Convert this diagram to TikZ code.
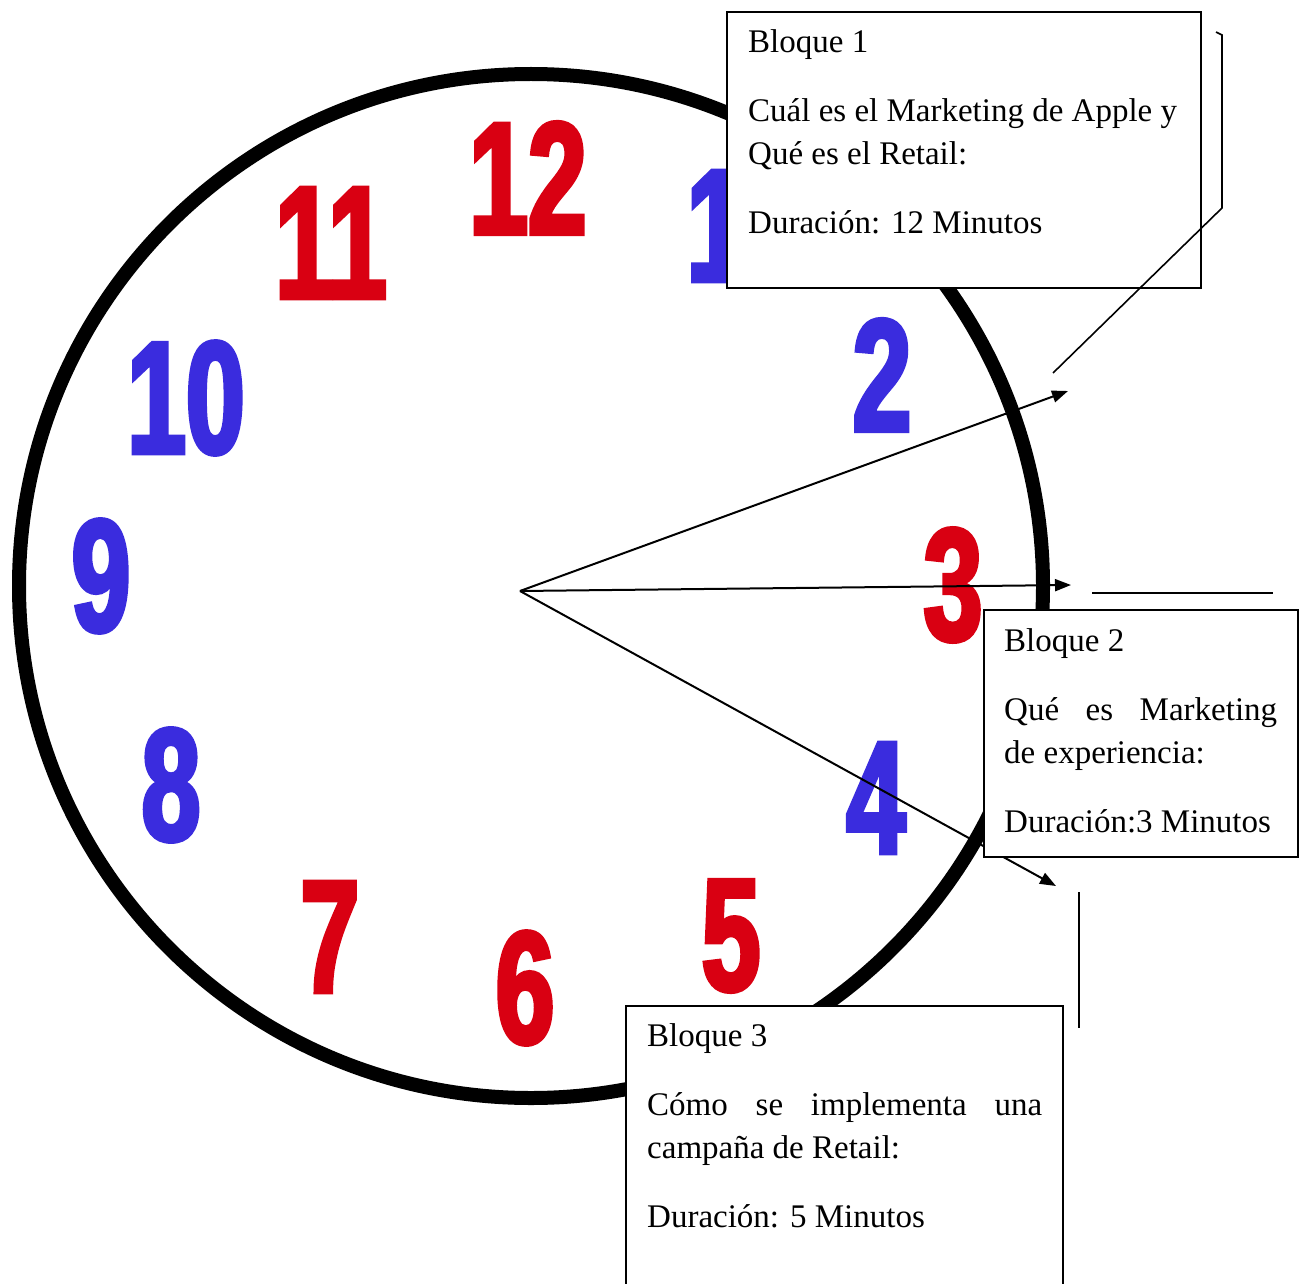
\documentclass[tikz,border=0pt]{standalone}
\usepackage{fontspec}
\setmainfont{Liberation Serif}
\newfontface\clockfont{Liberation Sans Bold}[FakeStretch=0.66,FakeBold=2.8]
\usetikzlibrary{arrows.meta}
\definecolor{clockred}{RGB}{217,0,18}
\definecolor{clockblue}{RGB}{58,44,222}
\begin{document}
\begin{tikzpicture}[x=1pt,y=-1pt,
  dial/.style={line width=14pt,draw=black},
  hour/.style={inner sep=0pt,font=\clockfont\fontsize{160}{160}\selectfont},
  red hour/.style={hour,text=clockred},
  blue hour/.style={hour,text=clockblue},
  pointer/.style={line width=2pt,-{Triangle[length=16pt,width=12pt]}},
  leader/.style={line width=1.6pt},
  blk/.style={draw=black,line width=2pt,fill=white,inner sep=0pt,anchor=north west},
  txt/.style={inner sep=0pt,anchor=base west,font=\fontsize{33}{40}\selectfont}]
\useasboundingbox (0,0) rectangle (1304,1284);
\clip (0,0) rectangle (1304,1284);
\fill[white] (0,0) rectangle (1304,1284);
% clock face
\draw[dial] (531,586) circle[radius=512];
\node[red hour]  (h12) at (528,178) {12};
\node[blue hour] (h1)  at (716,226) {1};
\node[blue hour] (h2)  at (882,375) {2};
\node[red hour]  (h3)  at (953,585) {3};
\node[blue hour] (h4)  at (876,798) {4};
\node[red hour]  (h5)  at (731,936) {5};
\node[red hour]  (h6)  at (525,988) {6};
\node[red hour]  (h7)  at (330,937) {7};
\node[blue hour] (h8)  at (171,785) {8};
\node[blue hour] (h9)  at (101,576) {9};
\node[blue hour] (h10) at (186,398) {10};
\node[red hour]  (h11) at (331,243) {11};
% pointers
\coordinate (hub) at (520,591);
\coordinate (p1) at (1068,391);
\coordinate (p2) at (1071,585);
\coordinate (p3) at (1056,886);
\draw[pointer] (hub) -- (p1);
\draw[pointer] (hub) -- (p2);
\draw[pointer] (hub) -- (p3);
% block 1
\node[blk,minimum width=474,minimum height=276] (b1) at (726,11) {};
\node[txt] (b1t1) at (748,53) {Bloque 1};
\node[txt] (b1t2) at (748,122) {Cuál es el Marketing de Apple y};
\node[txt] (b1t3) at (748,165) {Qué es el Retail:};
\node[txt] (b1t4) at (748,234) {Duración: 12 Minutos};
% block 2
\node[blk,minimum width=314,minimum height=247] (b2) at (983,609) {};
\node[txt] (b2t1) at (1004,651) {Bloque 2};
\node[txt] (b2t2) at (1004,720) {\makebox[273pt][s]{Qué es Marketing}};
\node[txt] (b2t3) at (1004,763) {de experiencia:};
\node[txt] (b2t4) at (1004,832) {Duración:3 Minutos};
% block 3
\node[blk,minimum width=437,minimum height=300] (b3) at (625,1005) {};
\node[txt] (b3t1) at (647,1046) {Bloque 3};
\node[txt] (b3t2) at (647,1115) {\makebox[395pt][s]{Cómo se implementa una}};
\node[txt] (b3t3) at (647,1158) {campaña de Retail:};
\node[txt] (b3t4) at (647,1227) {Duración: 5 Minutos};
% leader remnants (drawn over the blocks)
\coordinate (l1a) at (1216,32);
\coordinate (l1b) at (1222,35);
\coordinate (l1c) at (1222,208);
\coordinate (l1d) at (1053,373);
\draw[leader] (l1a) -- (l1b) -- (l1c) -- (l1d);
\coordinate (l2a) at (1092,593);
\coordinate (l2b) at (1273,593);
\draw[leader] (l2a) -- (l2b);
\coordinate (l3a) at (1079,892);
\coordinate (l3b) at (1079,1028);
\draw[leader] (l3a) -- (l3b);
\end{tikzpicture}
\end{document}
